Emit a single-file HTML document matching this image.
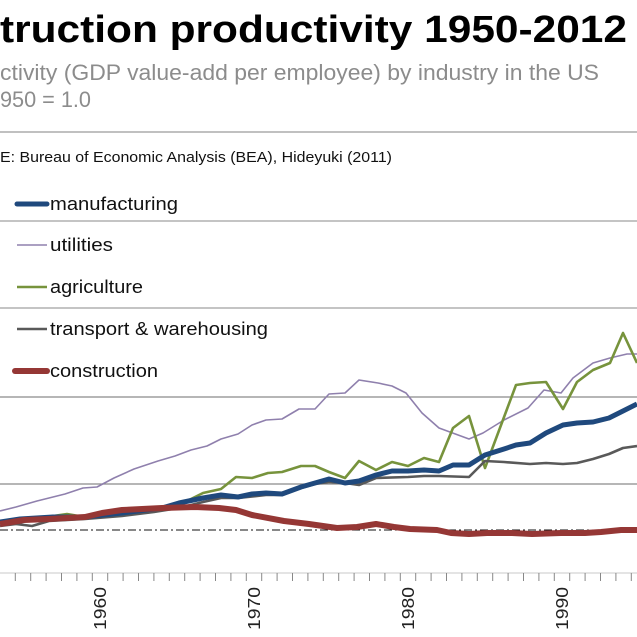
<!DOCTYPE html>
<html><head><meta charset="utf-8"><style>
html,body{margin:0;padding:0;background:#fff;}
svg{display:block;font-family:"Liberation Sans",sans-serif;}
</style></head><body>
<svg width="637" height="637" viewBox="0 0 637 637" xmlns="http://www.w3.org/2000/svg">
<rect width="637" height="637" fill="#fff"/>
<text x="0" y="42" font-size="38" font-weight="bold" fill="#000" textLength="627" lengthAdjust="spacingAndGlyphs">truction productivity 1950-2012</text>
<text x="0" y="80" font-size="22" fill="#8c8c8c" textLength="599" lengthAdjust="spacingAndGlyphs">ctivity (GDP value-add per employee) by industry in the US</text>
<text x="0" y="107" font-size="22" fill="#8c8c8c" textLength="91" lengthAdjust="spacingAndGlyphs">950 = 1.0</text>
<line x1="0" y1="132" x2="637" y2="132" stroke="#9a9a9a" stroke-width="1.2"/>
<text x="0" y="162" font-size="14.5" fill="#111" textLength="392" lengthAdjust="spacingAndGlyphs">E: Bureau of Economic Analysis (BEA), Hideyuki (2011)</text>
<g stroke="#a0a0a0" stroke-width="1.2">
<line x1="0" y1="221" x2="637" y2="221"/>
<line x1="0" y1="308" x2="637" y2="308"/>
<line x1="0" y1="397" x2="637" y2="397" stroke="#8a8a8a"/>
<line x1="0" y1="484" x2="637" y2="484" stroke="#8a8a8a"/>
</g>
<line x1="0" y1="530" x2="637" y2="530" stroke="#111" stroke-width="1" stroke-dasharray="8,3,2,3"/>
<g font-size="18.5" fill="#111">
<line x1="17" y1="204" x2="47" y2="204" stroke="#1f497d" stroke-width="5" stroke-linecap="round"/>
<text x="50" y="210" textLength="128" lengthAdjust="spacingAndGlyphs">manufacturing</text>
<line x1="17" y1="245" x2="47" y2="245" stroke="#8f80ad" stroke-width="1.6"/>
<text x="50" y="251" textLength="63" lengthAdjust="spacingAndGlyphs">utilities</text>
<line x1="17" y1="287" x2="47" y2="287" stroke="#77933c" stroke-width="2.6"/>
<text x="50" y="293" textLength="93" lengthAdjust="spacingAndGlyphs">agriculture</text>
<line x1="17" y1="329" x2="47" y2="329" stroke="#595959" stroke-width="2.6"/>
<text x="50" y="335" textLength="218" lengthAdjust="spacingAndGlyphs">transport &amp; warehousing</text>
<line x1="15" y1="371" x2="47" y2="371" stroke="#953735" stroke-width="6" stroke-linecap="round"/>
<text x="50" y="377" textLength="108" lengthAdjust="spacingAndGlyphs">construction</text>
</g>
<g fill="none" stroke-linejoin="round">
<polyline stroke="#8f80ad" stroke-width="1.6" points="0,511 16,507 37,501 65,494 83,488 97,487 114,478 134,469 158,461 175,456 191,450 207,446 221,439 238,434 252,425 266,420 282,419 299,409 315,409 329,394 345,393 359,380 378,383 392,386 406,393 422,413 439,428 469,439 483,433 504,420 528,408 544,390 561,393 573,378 593,363 610,358 627,354 637,354"/>
<polyline stroke="#77933c" stroke-width="2.6" points="0,523 53,516 67,514 85,517 106,513 126,512 162,508 179,505 203,493 221,489 236,477 252,478 268,473 282,472 301,466 315,466 329,472 345,478 359,461 376,470 392,462 408,466 424,458 439,462 453,428 469,416 485,468 516,385 530,383 546,382 563,409 577,382 593,370 610,363 623,333 637,363"/>
<polyline stroke="#595959" stroke-width="2.6" points="0,526 16,524 32,526 49,521 85,519 122,516 154,512 179,508 203,502 221,498 238,498 266,495 282,495 301,488 315,484 329,482 345,483 359,485 376,478 408,477 424,476 439,476 469,477 485,461 504,462 530,464 546,463 563,464 577,463 593,459 609,454 623,448 637,446"/>
<polyline stroke="#1f497d" stroke-width="5" points="0,522 20,519 53,517 85,517 122,513 162,508 179,503 203,498 221,495 238,497 252,494 266,493 282,494 301,487 315,483 329,479 345,483 359,481 376,475 392,471 408,471 424,470 439,471 453,465 469,465 485,455 504,449 516,445 530,443 546,433 563,425 577,423 593,422 609,418 621,412 637,404"/>
<polyline stroke="#953735" stroke-width="6" points="0,524 24,520 49,519 85,517 102,513 122,510 162,508 195,507 219,508 236,510 252,515 284,521 309,524 337,528 357,527 376,524 394,527 410,529 437,530 451,533 469,534 487,533 512,533 532,534 561,533 585,533 601,532 621,530 637,530"/>
</g>
<line x1="0" y1="573" x2="637" y2="573" stroke="#c8c8c8" stroke-width="1"/>
<g font-size="17.5" fill="#222">
<text transform="translate(106,630) rotate(-90)" textLength="43" lengthAdjust="spacingAndGlyphs">1960</text>
<text transform="translate(260,630) rotate(-90)" textLength="43" lengthAdjust="spacingAndGlyphs">1970</text>
<text transform="translate(414,630) rotate(-90)" textLength="43" lengthAdjust="spacingAndGlyphs">1980</text>
<text transform="translate(568,630) rotate(-90)" textLength="43" lengthAdjust="spacingAndGlyphs">1990</text>
</g>
<g stroke="#888" stroke-width="1">
<path d="M15.3 573v8M30.7 573v8M46.1 573v8M61.5 573v8M76.9 573v8M92.3 573v8M107.7 573v8M123.1 573v8M138.5 573v8M153.9 573v8M169.3 573v8M184.7 573v8M200.1 573v8M215.5 573v8M230.9 573v8M246.3 573v8M261.7 573v8M277.1 573v8M292.5 573v8M307.9 573v8M323.3 573v8M338.7 573v8M354.1 573v8M369.5 573v8M384.9 573v8M400.3 573v8M415.7 573v8M431.1 573v8M446.5 573v8M461.9 573v8M477.3 573v8M492.7 573v8M508.1 573v8M523.5 573v8M538.9 573v8M554.3 573v8M569.7 573v8M585.1 573v8M600.5 573v8M615.9 573v8M631.3 573v8"/>
</g>
</svg>
</body></html>
